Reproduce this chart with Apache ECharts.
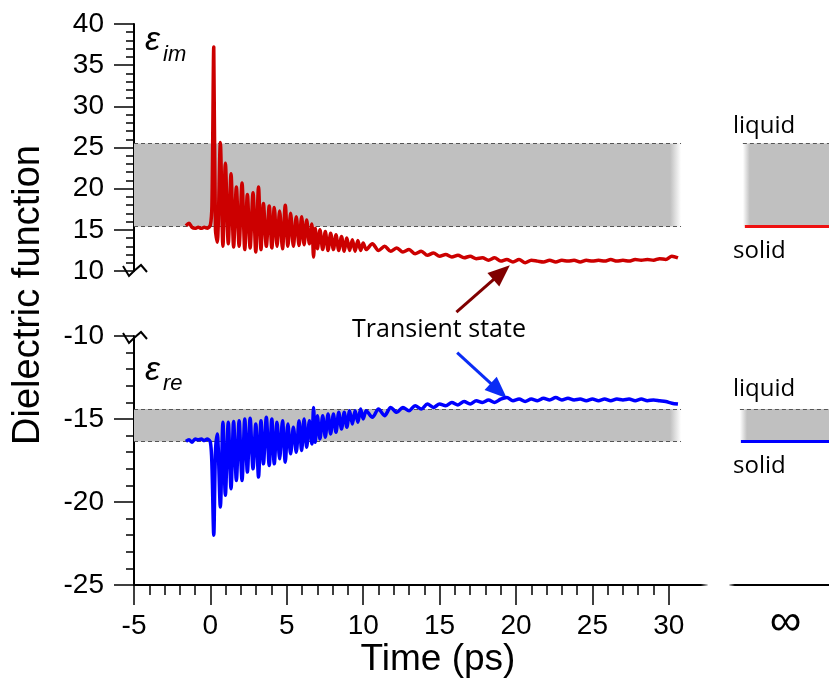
<!DOCTYPE html>
<html>
<head>
<meta charset="utf-8">
<title>Dielectric function</title>
<script src="https://cdn.jsdelivr.net/npm/echarts@6/dist/echarts.min.js"></script>
<style>
    html, body { margin: 0; padding: 0; background: #fff; }
    #chart { width: 829px; height: 682px; }
</style>
</head>
<body>
<div id="chart"></div>
<script>
    // time in ps, shared by both traces
    var timePs = [
        -1.6, -1.4, -1.2, -1.0, -0.8, -0.6, -0.4, -0.2, 0.0, 0.1,
        0.22, 0.33, 0.45, 0.65, 0.82, 0.98, 1.17, 1.35, 1.52, 1.70,
        1.88, 2.07, 2.25, 2.42, 2.60, 2.79, 2.97, 3.15, 3.31, 3.47,
        3.66, 3.85, 4.02, 4.18, 4.36, 4.53, 4.72, 4.90, 5.07, 5.25,
        5.43, 5.62, 5.80, 5.97, 6.13, 6.30, 6.48, 6.64, 6.75, 6.86,
        7.00, 7.17, 7.35, 7.52, 7.70, 7.87, 8.05, 8.22, 8.40, 8.58,
        8.76, 8.93, 9.11, 9.29, 9.47, 9.65, 9.83, 10.0,
        10.2, 10.6, 11.0, 11.4, 11.8, 12.2, 12.6, 13.0, 13.4, 13.8,
        14.2, 14.6, 15.0, 15.4, 15.8, 16.2, 16.6, 17.0, 17.4, 17.8,
        18.2, 18.6, 19.0, 19.4, 19.8, 20.2, 20.6, 21.0, 21.4, 21.8,
        22.2, 22.6, 23.0, 23.4, 23.8, 24.2, 24.6, 25.0, 25.4, 25.8,
        26.2, 26.6, 27.0, 27.4, 27.8, 28.2, 28.6, 29.0, 29.4, 29.8,
        30.2, 30.6
    ];
    // imaginary part (top panel)
    var epsIm = [
        15.5, 15.8, 15.3, 15.2, 15.3, 15.2, 15.3, 15.2, 15.6, 18.0,
        37.2, 15.0, 13.5, 25.6, 13.0, 23.1, 13.3, 21.8, 12.9, 20.2,
        13.0, 20.7, 12.6, 19.3, 12.8, 19.5, 12.3, 20.2, 12.6, 18.2,
        13.0, 17.9, 12.8, 17.7, 13.0, 17.3, 12.7, 18.0, 13.0, 17.0,
        13.0, 16.6, 13.1, 16.6, 13.2, 16.2, 13.3, 15.7, 11.7, 15.2,
        12.7, 15.0, 12.6, 14.8, 12.5, 14.6, 12.6, 14.4, 12.5, 14.2,
        12.4, 14.0, 12.5, 13.8, 12.4, 13.7, 12.5, 13.4,
        12.6, 13.3, 12.5, 13.0, 12.4, 12.8, 12.3, 12.6, 12.1, 12.4,
        11.9, 12.2, 11.8, 12.0, 11.7, 11.9, 11.6, 11.8, 11.5, 11.6,
        11.3, 11.6, 11.2, 11.4, 11.1, 11.4, 11.0, 11.3, 11.2, 11.1,
        11.3, 11.1, 11.3, 11.2, 11.3, 11.1, 11.3, 11.2, 11.3, 11.2,
        11.4, 11.2, 11.3, 11.2, 11.4, 11.3, 11.4, 11.3, 11.5, 11.4,
        11.8, 11.6
    ];
    // real part (bottom panel)
    var epsRe = [
        -16.35, -16.25, -16.4, -16.2, -16.25, -16.2, -16.3, -16.2, -16.4, -17.8,
        -22.0, -17.0, -15.9, -20.3, -15.2, -19.6, -15.2, -19.2, -15.15, -18.7,
        -15.1, -18.7, -15.0, -18.2, -14.95, -18.0, -15.3, -18.5, -15.1, -17.7,
        -14.9, -17.8, -15.0, -17.7, -15.2, -17.4, -15.1, -17.6, -15.3, -17.1,
        -15.5, -17.0, -15.1, -16.9, -15.0, -16.7, -15.1, -16.5, -14.3, -16.4,
        -14.8, -16.2, -14.8, -16.1, -14.7, -15.9, -14.7, -15.8, -14.6, -15.6,
        -14.6, -15.5, -14.5, -15.3, -14.5, -15.2, -14.4, -15.0,
        -14.5, -14.9, -14.4, -14.8, -14.3, -14.6, -14.3, -14.5, -14.2, -14.4,
        -14.1, -14.3, -14.1, -14.2, -14.0, -14.15, -13.95, -14.1, -13.9, -14.0,
        -13.85, -14.0, -13.8, -13.7, -13.9, -13.8, -13.95, -13.8, -13.9, -13.75,
        -13.85, -13.7, -13.85, -13.75, -13.85, -13.8, -13.9, -13.8, -13.9, -13.8,
        -13.9, -13.8, -13.85, -13.8, -13.9, -13.8, -13.9, -13.85, -13.9, -13.95,
        -14.05, -14.1
    ];
    var xMajorTicks = [-5, 0, 5, 10, 15, 20, 25, 30];
    var xMinorTicks = [-4, -3, -2, -1, 1, 2, 3, 4, 6, 7, 8, 9, 11, 12, 13, 14,
        16, 17, 18, 19, 21, 22, 23, 24, 26, 27, 28, 29];
    // solid / liquid levels: [solid, liquid]
    var imLevels = [15.4, 25.5];
    var reLevels = [-16.35, -14.4];

    var axisFont = '"Liberation Sans", Arial, sans-serif';
    var textFont = '"Open Sans", sans-serif';
    var red = '#cc0000';
    var blue = '#0000ff';
    var bandGrey = '#c0c0c0';
    var bandEnd = 30.8;

    var chart = echarts.init(document.getElementById('chart'));

    function pairs(vals) {
        return timePs.map(function (t, i) { return [t, vals[i]]; });
    }

    function bandArea(levels, x0, x1, fadeLeft) {
        var stops = fadeLeft
            ? [{offset: 0, color: '#ffffff'}, {offset: 0.08, color: bandGrey}, {offset: 1, color: bandGrey}]
            : [{offset: 0, color: bandGrey}, {offset: 0.98, color: bandGrey}, {offset: 1, color: '#ffffff'}];
        return {
            silent: true,
            itemStyle: {color: new echarts.graphic.LinearGradient(0, 0, 1, 0, stops)},
            data: [[{coord: [x0, levels[0]]}, {coord: [x1, levels[1]]}]]
        };
    }

    function dashLines(ys, x0, x1) {
        return {
            silent: true,
            symbol: ['none', 'none'],
            label: {show: false},
            lineStyle: {type: [4, 3], color: '#555', width: 1.2},
            data: ys.map(function (y) { return [{coord: [x0, y]}, {coord: [x1, y]}]; })
        };
    }

    var yAxisBase = function (grid, min, max) {
        return {
            gridIndex: grid, type: 'value', min: min, max: max, interval: 5,
            axisLine: {show: true, onZero: false, lineStyle: {color: '#000', width: 2}},
            axisTick: {show: true, length: 20, lineStyle: {color: '#000', width: 1.5}},
            minorTick: {show: true, splitNumber: 5, length: 8, lineStyle: {color: '#000', width: 1.5}},
            axisLabel: {color: '#000', fontSize: 28, fontFamily: axisFont, margin: 30},
            splitLine: {show: false}
        };
    };

    // fade the end of the main time axis like the broken axis of the figure
    var axisFade = new echarts.graphic.LinearGradient(0, 0, 1, 0, [
        {offset: 0, color: '#000'}, {offset: 0.985, color: '#000'}, {offset: 1, color: '#fff'}
    ]);
    var infFade = new echarts.graphic.LinearGradient(0, 0, 1, 0, [
        {offset: 0, color: '#fff'}, {offset: 0.07, color: '#000'}, {offset: 1, color: '#000'}
    ]);

    var infStart = 1.3;

    var option = {
        animation: false,
        backgroundColor: '#fff',
        grid: [
            {left: 134, right: 122, top: 24, height: 247},
            {left: 134, right: 122, top: 336, height: 249},
            {left: 730, right: 0, top: 24, height: 247},
            {left: 730, right: 0, top: 336, height: 249}
        ],
        xAxis: [
            {gridIndex: 0, type: 'value', min: -5, max: 32.5, show: false},
            {
                gridIndex: 1, type: 'value', min: -5, max: 32.5, position: 'bottom',
                axisLine: {onZero: false, lineStyle: {color: axisFade, width: 2}},
                axisTick: {customValues: xMajorTicks, length: 20, lineStyle: {color: '#000', width: 1.5}},
                axisLabel: {customValues: xMajorTicks, color: '#000', fontSize: 28, fontFamily: axisFont, margin: 27},
                splitLine: {show: false}
            },
            {
                gridIndex: 1, type: 'value', min: -5, max: 32.5, position: 'bottom',
                axisLine: {show: false, onZero: false},
                axisTick: {customValues: xMinorTicks, length: 10, lineStyle: {color: '#000', width: 1.5}},
                axisLabel: {show: false},
                splitLine: {show: false}
            },
            {gridIndex: 2, type: 'value', min: 0, max: 10, show: false},
            {
                gridIndex: 3, type: 'value', min: 0, max: 10, position: 'bottom',
                axisLine: {onZero: false, lineStyle: {color: infFade, width: 2}},
                axisTick: {show: false},
                axisLabel: {
                    customValues: [5.6], color: '#000', fontSize: 44, fontFamily: axisFont, margin: 16,
                    formatter: function () { return '\u221e'; }
                },
                splitLine: {show: false}
            }
        ],
        yAxis: [
            yAxisBase(0, 10, 40),
            yAxisBase(1, -25, -10),
            {gridIndex: 2, type: 'value', min: 10, max: 40, show: false},
            {gridIndex: 3, type: 'value', min: -25, max: -10, show: false}
        ],
        series: [
            {
                type: 'line', xAxisIndex: 0, yAxisIndex: 0, data: pairs(epsIm),
                symbol: 'none', z: 10, smooth: 0.3, lineStyle: {color: red, width: 3.5},
                markArea: bandArea(imLevels, -5, bandEnd, false),
                markLine: dashLines(imLevels, -5, bandEnd)
            },
            {
                type: 'line', xAxisIndex: 1, yAxisIndex: 1, data: pairs(epsRe),
                symbol: 'none', z: 10, smooth: 0.3, lineStyle: {color: blue, width: 3.5},
                markArea: bandArea(reLevels, -5, bandEnd, false),
                markLine: dashLines(reLevels, -5, bandEnd)
            },
            {
                type: 'line', xAxisIndex: 3, yAxisIndex: 2,
                data: [[infStart + 0.2, imLevels[0]], [10, imLevels[0]]],
                symbol: 'none', z: 10, lineStyle: {color: '#ee1111', width: 3},
                markArea: bandArea(imLevels, infStart, 10, true),
                markLine: dashLines([imLevels[1]], infStart, 10)
            },
            {
                type: 'line', xAxisIndex: 4, yAxisIndex: 3,
                data: [[infStart - 0.2, reLevels[0]], [10, reLevels[0]]],
                symbol: 'none', z: 10, lineStyle: {color: blue, width: 3},
                markArea: bandArea(reLevels, infStart - 0.3, 10, true),
                markLine: dashLines([reLevels[1]], infStart - 0.3, 10)
            }
        ]
    };
    chart.setOption(option);

    // annotations: arrows, labels, axis breaks
    function arrow(from, to, color) {
        var dx = to[0] - from[0], dy = to[1] - from[1];
        var len = Math.sqrt(dx * dx + dy * dy);
        var ux = dx / len, uy = dy / len, head = 22, half = 9;
        var bx = to[0] - ux * head, by = to[1] - uy * head;
        return [
            {type: 'line', shape: {x1: from[0], y1: from[1], x2: bx + ux * 2, y2: by + uy * 2},
                style: {stroke: color, lineWidth: 3}},
            {type: 'polygon', shape: {points: [[to[0], to[1]], [bx - uy * half, by + ux * half], [bx + uy * half, by - ux * half]]},
                style: {fill: color}}
        ];
    }

    function breakMark(p, dy) {
        var o = [[-11, -5], [-5, 5], [0, 0], [7, -6], [13, 1]];
        return {
            type: 'polyline',
            shape: {points: o.map(function (d) { return [p[0] + d[0], p[1] + dy + d[1]]; })},
            style: {stroke: '#000', lineWidth: 2, fill: null}
        };
    }

    function text(str, x, y, font, align, extra) {
        var t = {type: 'text', x: x, y: y, style: {text: str, font: font, fill: '#000',
            textAlign: align || 'left', textVerticalAlign: 'middle'}};
        if (extra) { for (var k in extra) { t[k] = extra[k]; } }
        return t;
    }

    var topCorner = chart.convertToPixel({gridIndex: 0}, [-5, 10]);
    var botCorner = chart.convertToPixel({gridIndex: 1}, [-5, -10]);

    var redArrow = arrow(chart.convertToPixel({gridIndex: 0}, [16.1, 5.0]),
        chart.convertToPixel({gridIndex: 0}, [19.6, 10.7]), '#800000');
    var blueArrow = arrow(chart.convertToPixel({gridIndex: 1}, [16.15, -11.0]),
        chart.convertToPixel({gridIndex: 1}, [19.4, -13.75]), '#0a2cf5');

    var graphics = [].concat(redArrow, blueArrow, [
        breakMark(topCorner, 0),
        breakMark(botCorner, 2),
        text('Dielectric function', 29, 295, '38px ' + axisFont, 'center', {rotation: Math.PI / 2}),
        text('Time (ps)', 438, 660, '37px ' + axisFont, 'center'),
        text('\u03b5', 145, 41, 'italic 34px ' + axisFont, 'left'),
        text('im', 163, 55, 'italic 22px ' + axisFont, 'left'),
        text('\u03b5', 145, 371, 'italic 34px ' + axisFont, 'left'),
        text('re', 163, 384, 'italic 22px ' + axisFont, 'left'),
        text('Transient state', 439, 330, '25px ' + textFont, 'center'),
        text('liquid', 733, 126, '24px ' + textFont, 'left'),
        text('solid', 733, 251, '24px ' + textFont, 'left'),
        text('liquid', 733, 389, '24px ' + textFont, 'left'),
        text('solid', 733, 466, '24px ' + textFont, 'left')
    ]);
    chart.setOption({graphic: graphics});
</script>
</body>
</html>
